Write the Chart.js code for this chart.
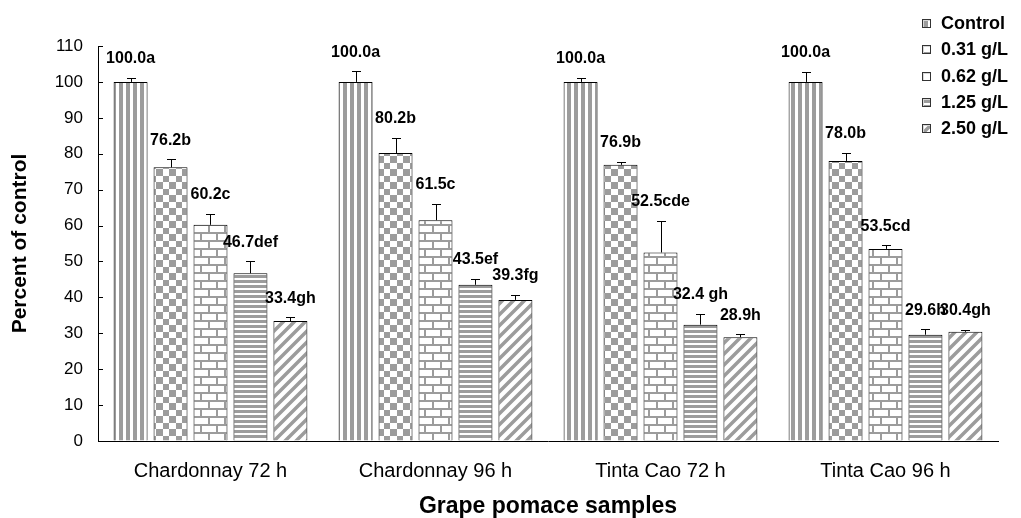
<!DOCTYPE html>
<html>
<head>
<meta charset="utf-8">
<script src="https://cdn.jsdelivr.net/npm/chart.js@4.4.1/dist/chart.umd.min.js"></script>
<style>
  html, body { margin: 0; padding: 0; background: #fff; }
  #wrap { width: 1021px; height: 518px; }
</style>
</head>
<body>
<div id="wrap"><canvas id="chart" width="1021" height="518"></canvas></div>
<script>
// categories
const samples = ["Chardonnay 72 h", "Chardonnay 96 h", "Tinta Cao 72 h", "Tinta Cao 96 h"];
const treatments = ["Control", "0.31 g/L", "0.62 g/L", "1.25 g/L", "2.50 g/L"];

// percent of control, one value per sample
const control = [100.0, 100.0, 100.0, 100.0];
const dose031 = [76.2, 80.2, 76.9, 78.0];
const dose062 = [60.2, 61.5, 52.5, 53.5];
const dose125 = [46.7, 43.5, 32.4, 29.6];
const dose250 = [33.4, 39.3, 28.9, 30.4];

// upper error bars
const errControl = [1.1, 2.9, 1.1, 2.8];
const err031 = [2.2, 4.2, 0.8, 2.3];
const err062 = [3.1, 4.6, 8.8, 1.0];
const err125 = [3.3, 1.6, 3.0, 1.5];
const err250 = [1.0, 1.4, 0.8, 0.5];

// significance letters
const letControl = ["a", "a", "a", "a"];
const let031 = ["b", "b", "b", "b"];
const let062 = ["c", "c", "cde", "cd"];
const let125 = ["def", "ef", " gh", "h"];
const let250 = ["gh", "fg", "h", "gh"];

// y axis
const yMin = 0, yMax = 110, yStep = 10;

const FONT = '"Liberation Sans", Arial, sans-serif';
const GRAY = '#9c9c9c';

// --- fill patterns ---
function makePattern(w, h, draw) {
  const c = document.createElement('canvas');
  c.width = w; c.height = h;
  const g = c.getContext('2d');
  g.fillStyle = '#fff';
  g.fillRect(0, 0, w, h);
  g.fillStyle = GRAY;
  g.strokeStyle = GRAY;
  draw(g);
  return document.getElementById('chart').getContext('2d').createPattern(c, 'repeat');
}

const patVertical = makePattern(7, 7, g => g.fillRect(0, 0, 4, 7));
const patChecker = makePattern(13, 13, g => { g.fillRect(0, 0, 7, 7); g.fillRect(7, 7, 6, 6); });
const patBrick = makePattern(16, 16, g => {
  g.fillRect(0, 0, 16, 2);
  g.fillRect(0, 8, 16, 2);
  g.fillRect(0, 0, 2, 8);
  g.fillRect(8, 8, 2, 8);
});
const patHoriz = makePattern(5, 5, g => g.fillRect(0, 0, 5, 3));
const patDiag = makePattern(11, 11, g => {
  g.lineWidth = 3.5;
  g.beginPath();
  g.moveTo(-5.5, 5.5); g.lineTo(5.5, -5.5);
  g.moveTo(0, 11); g.lineTo(11, 0);
  g.moveTo(5.5, 16.5); g.lineTo(16.5, 5.5);
  g.stroke();
});

const series = [
  { data: control, err: errControl, letters: letControl, fill: patVertical },
  { data: dose031, err: err031, letters: let031, fill: patChecker },
  { data: dose062, err: err062, letters: let062, fill: patBrick },
  { data: dose125, err: err125, letters: let125, fill: patHoriz },
  { data: dose250, err: err250, letters: let250, fill: patDiag }
];

// error bars + value labels
const errorBars = {
  id: 'errorBars',
  afterDatasetsDraw(chart) {
    const ctx = chart.ctx;
    const y = chart.scales.y;
    ctx.save();
    series.forEach((s, i) => {
      const meta = chart.getDatasetMeta(i);
      meta.data.forEach((bar, j) => {
        const top = y.getPixelForValue(s.data[j] + s.err[j]);
        const bx = Math.round(bar.x) + 0.5;
        ctx.strokeStyle = '#000';
        ctx.lineWidth = 1;
        ctx.beginPath();
        ctx.moveTo(bx, bar.y);
        ctx.lineTo(bx, Math.round(top) + 0.5);
        ctx.moveTo(bx - 4.5, Math.round(top) + 0.5);
        ctx.lineTo(bx + 4.5, Math.round(top) + 0.5);
        ctx.stroke();
      });
    });
    ctx.fillStyle = '#000';
    ctx.font = 'bold 16px ' + FONT;
    ctx.textAlign = 'center';
    ctx.textBaseline = 'middle';
    series.forEach((s, i) => {
      const meta = chart.getDatasetMeta(i);
      meta.data.forEach((bar, j) => {
        const top = y.getPixelForValue(s.data[j] + s.err[j]);
        ctx.fillText(s.data[j].toFixed(1) + s.letters[j], bar.x, top - 19);
      });
    });
    ctx.restore();
  }
};

// inward tick marks on the y axis
const innerTicks = {
  id: 'innerTicks',
  afterDraw(chart) {
    const ctx = chart.ctx;
    const y = chart.scales.y;
    const left = chart.chartArea.left;
    ctx.save();
    ctx.strokeStyle = '#000';
    ctx.lineWidth = 1;
    ctx.beginPath();
    y.ticks.forEach(t => {
      const py = Math.round(y.getPixelForValue(t.value)) + 0.5;
      ctx.moveTo(left, py);
      ctx.lineTo(left + 5, py);
    });
    ctx.stroke();
    ctx.restore();
  }
};

// legend at the top right
const sideLegend = {
  id: 'sideLegend',
  afterDraw(chart) {
    const ctx = chart.ctx;
    ctx.save();
    ctx.font = 'bold 18px ' + FONT;
    ctx.textBaseline = 'middle';
    ctx.textAlign = 'left';
    treatments.forEach((name, i) => {
      const cy = Math.round(23 + i * 26.3);
      ctx.fillStyle = '#d8d8d8';
      ctx.fillRect(922, cy - 4, 9, 9);
      ctx.fillStyle = series[i].fill;
      ctx.fillRect(924, cy - 2, 6, 6);
      ctx.strokeStyle = '#333';
      ctx.lineWidth = 1;
      ctx.strokeRect(922.5, cy - 3.5, 8, 8);
      ctx.fillStyle = '#000';
      ctx.fillText(name, 941, cy + 1);
    });
    ctx.restore();
  }
};

new Chart(document.getElementById('chart'), {
  type: 'bar',
  data: {
    labels: samples,
    datasets: series.map((s, i) => ({
      label: treatments[i],
      data: s.data,
      backgroundColor: s.fill,
      borderColor: '#000',
      borderWidth: 1,
      barPercentage: 0.85,
      categoryPercentage: 0.888
    }))
  },
  options: {
    responsive: false,
    animation: false,
    devicePixelRatio: 1,
    layout: { padding: { top: 46, right: 23, left: 0, bottom: 0 } },
    plugins: {
      legend: { display: false },
      tooltip: { enabled: false }
    },
    scales: {
      x: {
        grid: { display: true, drawOnChartArea: false, drawTicks: false },
        border: { display: true, color: '#000', width: 1 },
        ticks: { color: '#000', padding: 18, font: { family: FONT, size: 20 } },
        title: {
          display: true,
          text: 'Grape pomace samples',
          color: '#000',
          font: { family: FONT, size: 23, weight: 'bold', lineHeight: 1 },
          padding: { top: 0, bottom: 0 }
        },
        afterFit(s) { s.height = 77; }
      },
      y: {
        min: yMin,
        max: yMax,
        grid: { display: true, drawOnChartArea: false, drawTicks: false },
        border: { display: true, color: '#000', width: 1 },
        ticks: { stepSize: yStep, color: '#000', padding: 15, font: { family: FONT, size: 17 } },
        title: {
          display: true,
          text: 'Percent of control',
          color: '#000',
          font: { family: FONT, size: 21, weight: 'bold', lineHeight: 1.2 },
          padding: { top: 8, bottom: 0 }
        },
        afterFit(s) { s.width = 98; }
      }
    }
  },
  plugins: [errorBars, innerTicks, sideLegend]
});
</script>
</body>
</html>
